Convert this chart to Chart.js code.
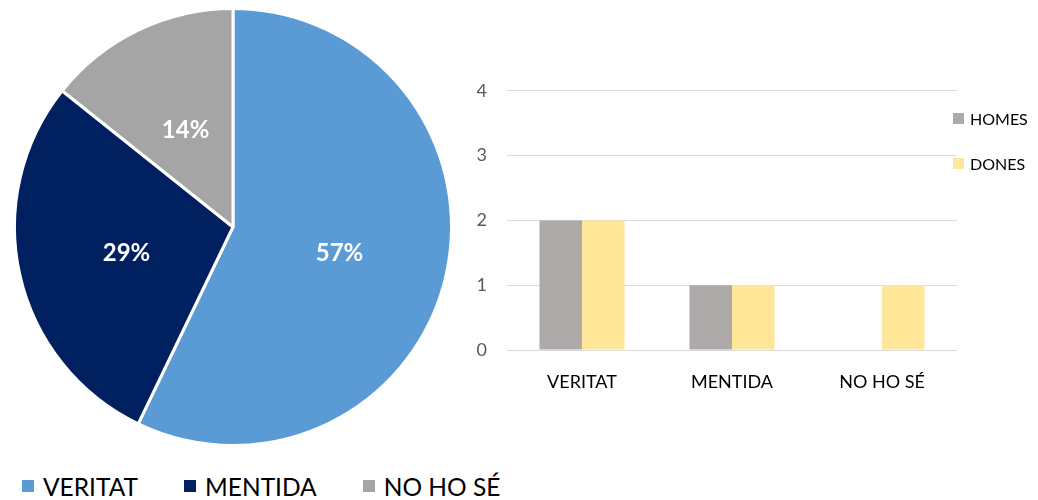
<!DOCTYPE html>
<html><head><meta charset="utf-8">
<script src="https://cdn.jsdelivr.net/npm/chart.js@4"></script>
<style>
html,body{margin:0;padding:0;background:#fff;width:1038px;height:500px;overflow:hidden;font-family:Lato,"Open Sans",sans-serif}
#pieWrap{position:absolute;left:0;top:0;width:466px;height:454px}
#barWrap{position:absolute;left:455px;top:60px;width:583px;height:345px}
.leg{position:absolute;display:flex;align-items:center;color:#000;white-space:nowrap}
.leg .sw{display:inline-block}
#pieLegend{left:22px;top:471px;height:30px;font-size:24.5px}
#pieLegend .item{display:flex;align-items:center;margin-right:46px}
#pieLegend .sw{width:12px;height:12px;margin-right:9px}
#barLegend{left:953px;top:106px;flex-direction:column;align-items:flex-start;font-size:16px}
#barLegend .item{display:flex;align-items:center;height:24px;margin-bottom:21px}
#barLegend .sw{width:11px;height:11px;margin-right:6px}
</style></head>
<body>
<div id="pieWrap"><canvas id="pie"></canvas></div>
<div id="barWrap"><canvas id="bar"></canvas></div>
<div id="pieLegend" class="leg"></div>
<div id="barLegend" class="leg"></div>
<script>
const pieLabels = ['VERITAT', 'MENTIDA', 'NO HO SÉ'];
const pieValues = [4, 2, 1];
const pieColors = ['#5B9BD5', '#002060', '#A5A5A5'];

const barCategories = ['VERITAT', 'MENTIDA', 'NO HO SÉ'];
const homesValues = [2, 1, 0];
const donesValues = [2, 1, 1];
const barSeriesNames = ['HOMES', 'DONES'];
const barColors = ['#AEAAAA', '#FFE699'];
const yTicks = [0, 1, 2, 3, 4];

const FONT = 'Lato, "Open Sans", sans-serif';

const pieLabelPlugin = {
  id: 'pieLabelPlugin',
  afterDatasetsDraw(chart) {
    const ctx = chart.ctx;
    const meta = chart.getDatasetMeta(0);
    const data = chart.data.datasets[0].data;
    const total = data.reduce((a, b) => a + b, 0);
    ctx.save();
    ctx.fillStyle = '#ffffff';
    ctx.font = 'bold 24px ' + FONT;
    ctx.textAlign = 'center';
    ctx.textBaseline = 'middle';
    meta.data.forEach((arc, i) => {
      const p = arc.tooltipPosition();
      ctx.fillText(Math.round(data[i] / total * 100) + '%', p.x, p.y + 2);
    });
    ctx.restore();
  }
};

new Chart(document.getElementById('pie'), {
  type: 'pie',
  data: {
    labels: pieLabels,
    datasets: [{
      data: pieValues,
      backgroundColor: pieColors,
      borderColor: '#ffffff',
      borderWidth: 3
    }]
  },
  options: {
    responsive: true,
    maintainAspectRatio: false,
    animation: false,
    layout: { padding: { left: 13, right: 13, top: 7, bottom: 7 } },
    plugins: { legend: { display: false }, tooltip: { enabled: false } }
  },
  plugins: [pieLabelPlugin]
});

new Chart(document.getElementById('bar'), {
  type: 'bar',
  data: {
    labels: barCategories,
    datasets: [
      { label: barSeriesNames[0], data: homesValues, backgroundColor: barColors[0] },
      { label: barSeriesNames[1], data: donesValues, backgroundColor: barColors[1] }
    ]
  },
  options: {
    responsive: true,
    maintainAspectRatio: false,
    animation: false,
    layout: { padding: { top: 24, right: 81, left: 0, bottom: 0 } },
    datasets: { bar: { categoryPercentage: 0.567, barPercentage: 1 } },
    plugins: { legend: { display: false }, tooltip: { enabled: false } },
    scales: {
      x: {
        grid: { display: false },
        border: { display: false },
        ticks: { color: '#000', font: { family: FONT, size: 18 }, padding: 13 },
        afterFit(s) { s.height = 55; }
      },
      y: {
        min: 0, max: 4,
        afterBuildTicks(s) { s.ticks = yTicks.map(v => ({ value: v })); },
        grid: { color: '#D9D9D9', lineWidth: 1, drawTicks: false },
        border: { display: false },
        ticks: { color: '#595959', font: { family: FONT, size: 18 }, padding: 20 },
        afterFit(s) { s.width = 52; }
      }
    }
  }
});

function buildLegend(el, names, colors) {
  names.forEach((n, i) => {
    const item = document.createElement('span');
    item.className = 'item';
    const sw = document.createElement('span');
    sw.className = 'sw';
    sw.style.background = colors[i];
    const t = document.createElement('span');
    t.textContent = n;
    item.appendChild(sw);
    item.appendChild(t);
    el.appendChild(item);
  });
}
buildLegend(document.getElementById('pieLegend'), pieLabels, pieColors);
buildLegend(document.getElementById('barLegend'), barSeriesNames, barColors);
</script>
</body></html>
